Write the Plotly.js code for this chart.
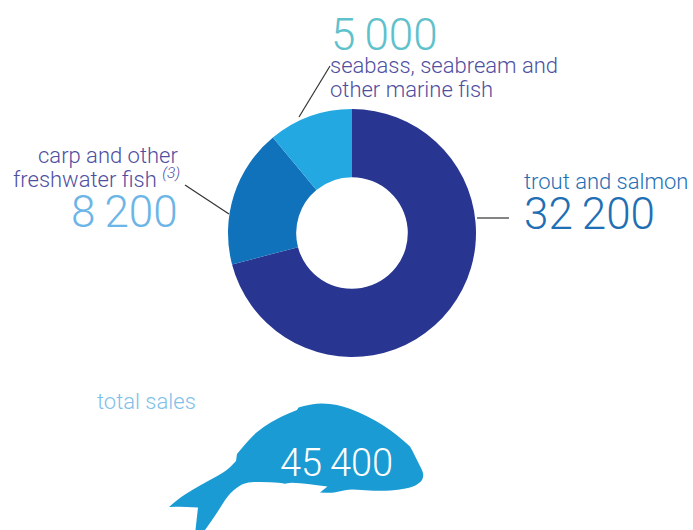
<!DOCTYPE html>
<html><head><meta charset="utf-8">
<script src="https://cdn.plot.ly/plotly-3.0.1.min.js"></script>
<style>html,body{margin:0;padding:0;background:#fff}</style></head>
<body><div id="chart" style="width:693px;height:530px"></div>
<script>
var categories = ["trout and salmon", "carp and other freshwater fish", "seabass, seabream and other marine fish"];
var salesValues = [32200, 8200, 5000];
var sliceColors = ["#283691", "#1072ba", "#23a8e2"];
var W = 693, H = 530, FONT = "Roboto, 'Noto Sans', sans-serif";
function px(x){return x/W;} function py(y){return 1-y/H;}
function P(p){return px(p[0]).toFixed(5)+","+py(p[1]).toFixed(5);}
// third element 1 marks a sharp corner; other points are smoothed through midpoints
function path(pts){
  var d="M"+P(pts[0]);
  for(var i=1;i<pts.length;i++){
    var p=pts[i], n=pts[(i+1)%pts.length];
    if(p[2]) d+=" L"+P(p);
    else d+=" Q"+P(p)+" "+P([(p[0]+n[0])/2,(p[1]+n[1])/2]);
  }
  return d+" Z";
}
var fishOutline = [[169,507,1],[178,499],[192,490],[208,481],[226.5,471],[236,461,1],[237,454,1],[250,438],[263,427],[280,417],[297,410,1],[298.5,407.5,1],[310,404.5],[323,403.2],[337,405],[350,408.5],[367,416],[383,425],[397,435],[410,446.5,1],[412,450,1],[418,462],[423.5,473],[423,478],[421,482],[413,487],[398,490],[383,491],[365,490.5],[350,489],[340,491.5],[331,493],[320,492.5,1],[327.5,486.5,1],[310,484],[290,482.3],[285,484],[280,482.7],[260,481.7],[248,482.5],[240,485],[228,495],[217,513],[205,530,1],[195.5,530,1],[198,507.5,1],[183,506.5]];
function lbl(text,x,y,size,color,anchor){
  return {text:text,x:px(x),y:py(y),xref:"paper",yref:"paper",xanchor:anchor,yanchor:"middle",showarrow:false,align:anchor,
    font:{family:FONT,size:size,color:color,weight:300}};
}
var annotations = [
  lbl("5\u2009000",329,35,44,"#5fc1cb","left"),
  lbl("seabass, seabream and",328,66,22,"#4f4f9f","left"),
  lbl("other marine fish",328,90,22,"#4f4f9f","left"),
  lbl("carp and other",180,155,22,"#4f4f9f","right"),
  lbl("freshwater fish <i><sup>(3)</sup></i>",182,178,22,"#4f4f9f","right"),
  lbl("8\u2009200",180,212,44,"#6cb5e6","right"),
  lbl("trout and salmon",522,181,22,"#1f6fb5","left"),
  lbl("32\u2009200",522,214,44,"#1f6fb5","left"),
  lbl("total sales",95,401,22,"#80bfe9","left"),
  lbl("45\u2009400",278,463,38,"#ffffff","left")
];
var shapes = [
  {type:"path",xref:"paper",yref:"paper",path:path(fishOutline),fillcolor:"#1a9bd3",line:{width:0}},
  {type:"line",xref:"paper",yref:"paper",x0:px(330),y0:py(66),x1:px(299),y1:py(117),line:{color:"#333",width:1.2}},
  {type:"line",xref:"paper",yref:"paper",x0:px(185),y0:py(185),x1:px(229),y1:py(214),line:{color:"#333",width:1.2}},
  {type:"line",xref:"paper",yref:"paper",x0:px(477),y0:py(218),x1:px(509),y1:py(218),line:{color:"#333",width:1.2}}
];
Plotly.newPlot("chart",[{type:"pie",labels:categories,values:salesValues,hole:0.45,sort:false,direction:"clockwise",rotation:0,
  marker:{colors:sliceColors,line:{width:0}},textinfo:"none",hoverinfo:"label+value",
  domain:{x:[px(228),px(476)],y:[py(357),py(109)]}}],
  {width:W,height:H,margin:{l:0,r:0,t:0,b:0},showlegend:false,paper_bgcolor:"#fff",font:{family:FONT},annotations:annotations,shapes:shapes},
  {displayModeBar:false,staticPlot:true});
</script></body></html>
